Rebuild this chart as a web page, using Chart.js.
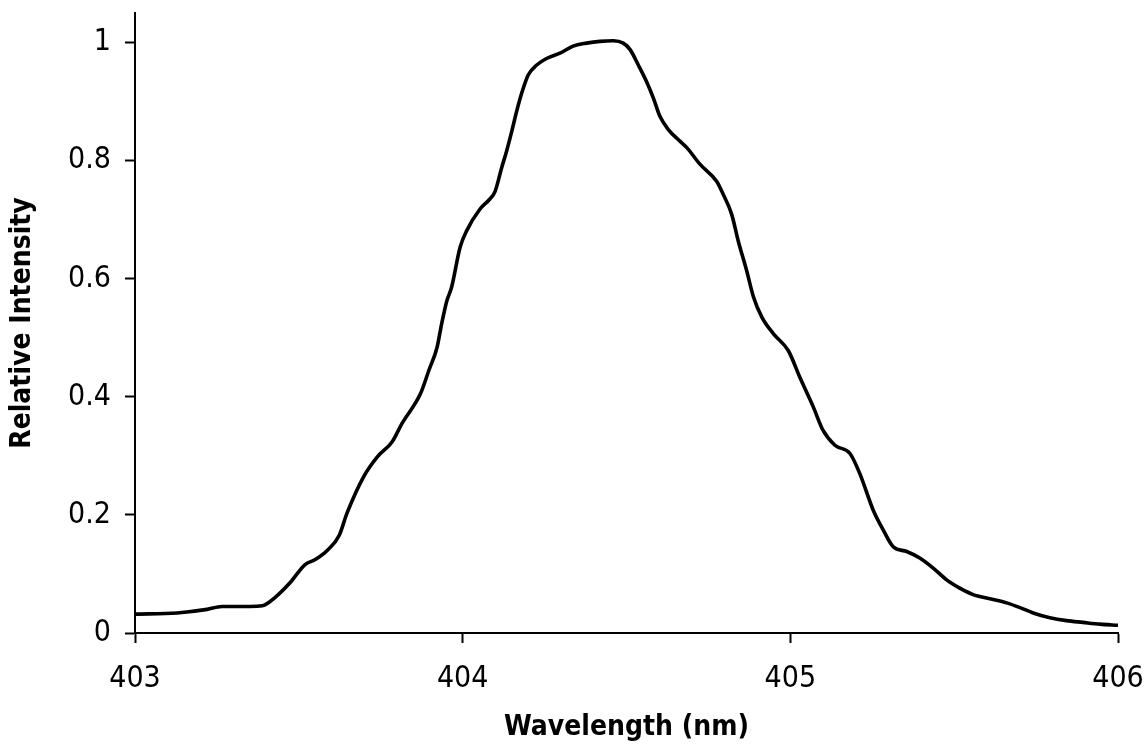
<!DOCTYPE html>
<html>
<head>
<meta charset="utf-8">
<title>Relative Intensity vs Wavelength</title>
<script src="https://cdn.jsdelivr.net/npm/chart.js@4.4.1/dist/chart.umd.min.js"></script>
<style>
  html, body { margin: 0; padding: 0; background: #fff; }
  #chart { display: block; }
</style>
</head>
<body>
<canvas id="chart" width="1147" height="745"></canvas>
<script>
// wavelength (nm) and relative intensity
const wavelength = [
  403.000, 403.128, 403.220, 403.265, 403.351, 403.388, 403.427, 403.473, 403.519, 403.549,
  403.589, 403.623, 403.647, 403.698, 403.739, 403.785, 403.815, 403.871, 403.897, 403.922,
  403.936, 403.952, 403.966, 403.992, 404.012, 404.053, 404.083, 404.099, 404.119, 404.134,
  404.150, 404.165, 404.180, 404.200, 404.226, 404.256, 404.297, 404.337, 404.378, 404.419,
  404.460, 404.490, 404.511, 404.536, 404.561, 404.582, 404.602, 404.627, 404.663, 404.684,
  404.724, 404.775, 404.795, 404.821, 404.841, 404.867, 404.887, 404.913, 404.948, 404.994,
  405.029, 405.070, 405.100, 405.136, 405.182, 405.212, 405.253, 405.283, 405.314, 405.355,
  405.395, 405.436, 405.477, 405.517, 405.558, 405.609, 405.660, 405.701, 405.741, 405.792,
  405.843, 405.893, 405.945, 406.000
];
const intensity = [
  0.032, 0.034, 0.040, 0.045, 0.045, 0.046, 0.060, 0.085, 0.116, 0.124,
  0.141, 0.165, 0.203, 0.265, 0.298, 0.324, 0.355, 0.405, 0.445, 0.484,
  0.524, 0.563, 0.585, 0.653, 0.681, 0.718, 0.735, 0.748, 0.788, 0.816,
  0.850, 0.884, 0.914, 0.945, 0.962, 0.973, 0.982, 0.994, 0.999, 1.002,
  1.003, 0.999, 0.988, 0.962, 0.934, 0.906, 0.875, 0.853, 0.833, 0.822,
  0.794, 0.765, 0.743, 0.709, 0.664, 0.613, 0.570, 0.535, 0.507, 0.478,
  0.433, 0.383, 0.343, 0.318, 0.304, 0.270, 0.208, 0.175, 0.146, 0.138,
  0.127, 0.110, 0.090, 0.076, 0.065, 0.058, 0.051, 0.043, 0.034, 0.026,
  0.021, 0.018, 0.015, 0.013
];
const xTicks = [403, 404, 405, 406];
const yTicks = [0, 0.2, 0.4, 0.6, 0.8, 1];

const fontFamily = "'DejaVu Sans Condensed', 'DejaVu Sans', sans-serif";

const points = wavelength.map((w, i) => ({ x: w, y: intensity[i] }));

const ctx = document.getElementById("chart").getContext("2d");
const chart = new Chart(ctx, {
  type: "line",
  data: {
    datasets: [
      {
        data: points,
        borderColor: "#000",
        borderWidth: 3.6,
        pointRadius: 0,
        fill: false,
        tension: 0.4,
        cubicInterpolationMode: "monotone",
      },
    ],
  },
  options: {
    responsive: false,
    animation: false,
    layout: {
      padding: { top: 13, right: 29, bottom: 0, left: 0 },
    },
    plugins: {
      legend: { display: false },
      tooltip: { enabled: false },
    },
    scales: {
      x: {
        type: "linear",
        min: 403,
        max: 406,
        afterBuildTicks: (scale) => {
          scale.ticks = xTicks.map((v) => ({ value: v }));
        },
        afterFit: (scale) => {
          scale.height = 112;
          scale.paddingLeft = 0;
          scale.paddingRight = 0;
        },
        border: { display: true, color: "#000", width: 2 },
        grid: {
          display: true,
          drawOnChartArea: false,
          drawTicks: true,
          tickLength: 10,
          tickColor: "#000",
          tickWidth: 2,
        },
        ticks: {
          color: "#000",
          padding: 18,
          maxRotation: 0,
          font: { family: fontFamily, size: 30 },
        },
        title: {
          display: true,
          text: "Wavelength (nm)",
          color: "#000",
          padding: { top: 17, bottom: 0 },
          font: { family: fontFamily, size: 28, weight: "bold" },
        },
      },
      y: {
        type: "linear",
        min: 0,
        max: 1.05,
        afterBuildTicks: (scale) => {
          scale.ticks = yTicks.map((v) => ({ value: v }));
        },
        afterFit: (scale) => {
          scale.width = 135;
          scale.paddingTop = 0;
          scale.paddingBottom = 0;
        },
        border: { display: true, color: "#000", width: 2 },
        grid: {
          display: true,
          drawOnChartArea: false,
          drawTicks: true,
          tickLength: 10,
          tickColor: "#000",
          tickWidth: 2,
        },
        ticks: {
          color: "#000",
          padding: 14,
          font: { family: fontFamily, size: 30 },
          callback: (value) => String(Number(value.toFixed(1))),
        },
        title: {
          display: true,
          text: "Relative Intensity",
          color: "#000",
          padding: { top: 6, bottom: 0 },
          font: { family: fontFamily, size: 28, weight: "bold" },
        },
      },
    },
  },
});
</script>
</body>
</html>
